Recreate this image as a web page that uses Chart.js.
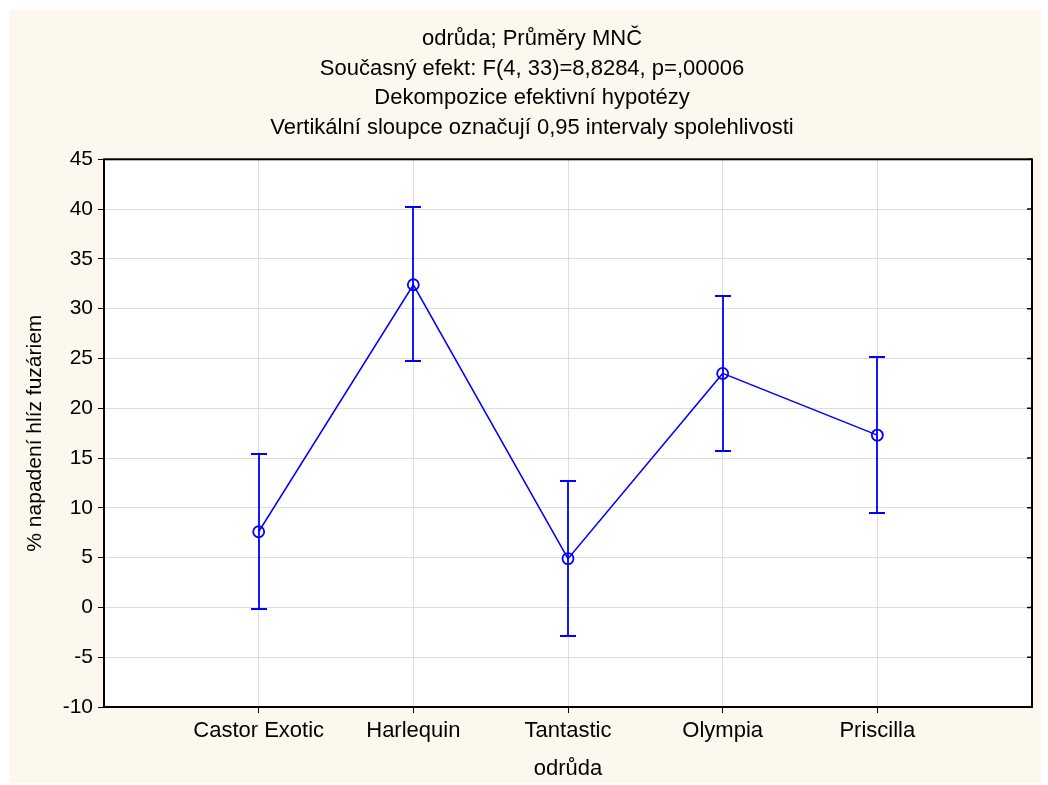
<!DOCTYPE html>
<html>
<head>
<meta charset="utf-8">
<script src="https://cdn.jsdelivr.net/npm/chart.js@4"></script>
<style>
  html, body { margin: 0; padding: 0; background: #ffffff; }
  #wrap { width: 1048px; height: 785px; }
</style>
</head>
<body>
<div id="wrap"><canvas id="chartMeans"></canvas></div>
<script>
      // data
      const categories = ["Castor Exotic", "Harlequin", "Tantastic", "Olympia", "Priscilla"];
      const means = [7.6, 32.4, 4.9, 23.5, 17.3];
      const lowerCI = [-0.2, 24.7, -2.9, 15.7, 9.5];
      const upperCI = [15.4, 40.2, 12.7, 31.3, 25.1];
      const titleLines = [
        "odrůda; Průměry MNČ",
        "Současný efekt: F(4, 33)=8,8284, p=,00006",
        "Dekompozice efektivní hypotézy",
        "Vertikální sloupce označují 0,95 intervaly spolehlivosti"
      ];
      const yTitle = "% napadení hlíz fuzáriem";
      const xTitle = "odrůda";

      const blue = "#0000ff";
      const fontFamily = "'Liberation Sans', Arial, sans-serif";

      // pozadi panelu a plochy grafu
      const backgroundPlugin = {
        id: "background",
        beforeDraw(chart) {
          const {ctx, chartArea} = chart;
          ctx.save();
          ctx.fillStyle = "#ffffff";
          ctx.fillRect(0, 0, chart.width, chart.height);
          ctx.fillStyle = "#fdf8ee";
          ctx.fillRect(9, 10, 1032, 773);
          ctx.fillStyle = "#ffffff";
          ctx.fillRect(chartArea.left, chartArea.top, chartArea.right - chartArea.left, chartArea.bottom - chartArea.top);
          ctx.restore();
        }
      };

      // svisle sloupce intervalu spolehlivosti
      const errorBarPlugin = {
        id: "errorBars",
        afterDatasetsDraw(chart) {
          const {ctx, scales} = chart;
          ctx.save();
          ctx.strokeStyle = blue;
          ctx.lineWidth = 1.8;
          categories.forEach((c, i) => {
            const x = Math.round(scales.x.getPixelForValue(i + 1));
            const yl = Math.round(scales.y.getPixelForValue(lowerCI[i]));
            const yu = Math.round(scales.y.getPixelForValue(upperCI[i]));
            ctx.beginPath();
            ctx.moveTo(x, yl);
            ctx.lineTo(x, yu);
            ctx.moveTo(x - 8, yl);
            ctx.lineTo(x + 8, yl);
            ctx.moveTo(x - 8, yu);
            ctx.lineTo(x + 8, yu);
            ctx.stroke();
          });
          ctx.restore();
        }
      };

      // ramecek a vnitrni znacky vpravo
      const framePlugin = {
        id: "frame",
        afterDraw(chart) {
          const {ctx, chartArea, scales} = chart;
          ctx.save();
          ctx.strokeStyle = "#000000";
          ctx.lineWidth = 2;
          ctx.strokeRect(chartArea.left, chartArea.top, chartArea.right - chartArea.left, chartArea.bottom - chartArea.top);
          ctx.lineWidth = 1.5;
          ctx.beginPath();
          scales.y.ticks.forEach(t => {
            const y = scales.y.getPixelForValue(t.value);
            ctx.moveTo(chartArea.right - 5, y);
            ctx.lineTo(chartArea.right, y);
          });
          ctx.stroke();
          ctx.restore();
        }
      };

      const chartMeans = new Chart(document.getElementById("chartMeans"), {
        type: "line",
        data: {
          datasets: [
            {
              data: categories.map((c, i) => ({x: i + 1, y: means[i]})),
              borderColor: blue,
              borderWidth: 1.5,
              pointRadius: 5.5,
              pointBorderWidth: 1.8,
              pointBorderColor: blue,
              pointBackgroundColor: "rgba(0,0,0,0)",
              tension: 0
            }
          ]
        },
        options: {
          responsive: true,
          maintainAspectRatio: false,
          animation: false,
          layout: { padding: { left: 32, right: 16, top: 0, bottom: 0 } },
          plugins: {
            legend: { display: false },
            tooltip: { enabled: false },
            title: {
              display: true,
              text: titleLines,
              color: "#000000",
              font: { family: fontFamily, size: 22, weight: "normal", lineHeight: 1.35 },
              padding: { top: 24, bottom: 16.5 }
            }
          },
          scales: {
            x: {
              type: "linear",
              min: 0,
              max: 6,
              afterFit: s => { s.height = 78; },
              afterBuildTicks: s => { s.ticks = [0, 1, 2, 3, 4, 5, 6].map(v => ({value: v})); },
              border: { display: false },
              grid: {
                color: "#dddddd",
                lineWidth: 1,
                tickLength: 6,
                tickColor: c => (c.tick && (c.tick.value === 0 || c.tick.value === 6)) ? "rgba(0,0,0,0)" : "#000000"
              },
              ticks: {
                color: "#000000",
                padding: 5,
                maxRotation: 0,
                autoSkip: false,
                font: { family: fontFamily, size: 22 },
                callback: v => categories[v - 1] || ""
              },
              title: {
                display: true,
                text: xTitle,
                color: "#000000",
                font: { family: fontFamily, size: 22 },
                padding: { top: 0, bottom: 3 }
              }
            },
            y: {
              min: -10,
              max: 45,
              afterFit: s => { s.width = 72; },
              border: { display: false },
              grid: {
                color: "#dddddd",
                lineWidth: 1,
                tickLength: 6,
                tickColor: "#000000"
              },
              ticks: {
                stepSize: 5,
                color: "#000000",
                padding: 5,
                font: { family: fontFamily, size: 21 }
              },
              title: {
                display: true,
                text: yTitle,
                color: "#000000",
                font: { family: fontFamily, size: 21 },
                padding: { top: -9.5, bottom: 0 }
              }
            }
          }
        },
        plugins: [backgroundPlugin, errorBarPlugin, framePlugin]
      });
</script>
</body>
</html>
